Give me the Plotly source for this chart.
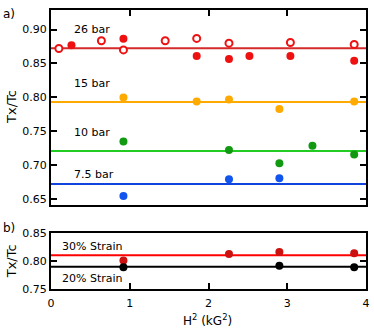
import plotly.graph_objects as go

# ---- data ----
h2_26_open = [0.10, 0.64, 0.92, 1.45, 1.85, 2.26, 3.04, 3.85]
tx_26_open = [0.872, 0.8835, 0.870, 0.8835, 0.887, 0.880, 0.881, 0.878]
h2_26_fill = [0.26, 0.92, 1.85, 2.26, 2.52, 3.04, 3.85]
tx_26_fill = [0.8768, 0.8864, 0.861, 0.8565, 0.861, 0.861, 0.854]
h2_15 = [0.92, 1.85, 2.26, 2.90, 3.85]
tx_15 = [0.7996, 0.7938, 0.7965, 0.7826, 0.7938]
h2_10 = [0.92, 2.26, 2.90, 3.32, 3.85]
tx_10 = [0.7346, 0.722, 0.7025, 0.7283, 0.7152]
h2_75 = [0.92, 2.26, 2.90]
tx_75 = [0.654, 0.6788, 0.6803]
h2_s30 = [0.92, 2.26, 2.90, 3.85]
tx_s30 = [0.8012, 0.8128, 0.8163, 0.814]
h2_s20 = [0.92, 2.90, 3.85]
tx_s20 = [0.789, 0.7918, 0.789]

fit_x = [0, 4]
fit_26, fit_15, fit_10, fit_75 = 0.8725, 0.7928, 0.7206, 0.6716
fit_s30, fit_s20 = 0.8105, 0.790

labels_top = ["26 bar", "15 bar", "10 bar", "7.5 bar"]
labels_bot = ["30% Strain", "20% Strain"]

FONT = "DejaVu Sans"
fig = go.Figure()

def line(y, color, xa, ya):
    fig.add_trace(go.Scatter(x=fit_x, y=[y, y], mode="lines", line=dict(color=color, width=2),
                             xaxis=xa, yaxis=ya, showlegend=False, hoverinfo="skip"))

def pts(x, y, color, xa, ya, open_=False):
    if open_:
        m = dict(size=7, color="white", line=dict(color=color, width=2), symbol="circle")
    else:
        m = dict(size=8, color=color, line=dict(width=0))
    fig.add_trace(go.Scatter(x=x, y=y, mode="markers", marker=m, xaxis=xa, yaxis=ya,
                             showlegend=False, cliponaxis=False))

# top panel
line(fit_26, "#d42a2a", "x", "y")
line(fit_15, "#ffaa00", "x", "y")
line(fit_10, "#22cc22", "x", "y")
line(fit_75, "#1144dd", "x", "y")
pts(h2_26_open, tx_26_open, "#ee1111", "x", "y", open_=True)
pts(h2_26_fill, tx_26_fill, "#ee1111", "x", "y")
pts(h2_15, tx_15, "#ffaa00", "x", "y")
pts(h2_10, tx_10, "#119911", "x", "y")
pts(h2_75, tx_75, "#1155ee", "x", "y")

# bottom panel
line(fit_s30, "#ff0000", "x2", "y2")
line(fit_s20, "#000000", "x2", "y2")
pts(h2_s30, tx_s30, "#cc1111", "x2", "y2")
pts(h2_s20, tx_s20, "#000000", "x2", "y2")

axis_common = dict(showgrid=False, zeroline=False, showline=True, linecolor="black", linewidth=2,
                   ticks="inside", ticklen=6, tickwidth=2, tickcolor="black",
                   tickfont=dict(family=FONT, size=11, color="black"))

fig.update_layout(
    width=374, height=329,
    margin=dict(l=51, r=5, t=4, b=40),
    paper_bgcolor="white", plot_bgcolor="white",
    font=dict(family=FONT, size=11, color="black"),
    xaxis=dict(**axis_common, range=[0, 4], dtick=1, side="top", showticklabels=False,
               mirror=True, anchor="y"),
    yaxis=dict(**axis_common, range=[0.641, 0.929], tickvals=[0.65, 0.70, 0.75, 0.80, 0.85, 0.90],
               tickformat=".2f", mirror="ticks", domain=[0.302, 1], anchor="x"),
    xaxis2=dict(**axis_common, range=[0, 4], dtick=1, mirror=True, anchor="y2",
                ticklabelstandoff=3),
    yaxis2=dict(**axis_common, range=[0.75, 0.85], tickvals=[0.75, 0.80, 0.85],
                tickformat=".2f", mirror="ticks", domain=[0, 0.2], anchor="x2"),
)

ann = []
for txt, yv in zip(labels_top, [0.9002, 0.8199, 0.748, 0.685]):
    ann.append(dict(text=txt, x=0.27, y=yv, xref="x", yref="y", xanchor="left", yanchor="middle",
                    showarrow=False, font=dict(family=FONT, size=11)))
for txt, yv in zip(labels_bot, [0.8268, 0.768]):
    ann.append(dict(text=txt, x=0.12, y=yv, xref="x2", yref="y2", xanchor="left", yanchor="middle",
                    showarrow=False, font=dict(family=FONT, size=11)))
ann += [
    dict(text="a)", x=-0.16, y=0.986, xref="paper", yref="paper", xanchor="left", yanchor="middle",
         showarrow=False, font=dict(family=FONT, size=12)),
    dict(text="b)", x=-0.16, y=0.2186, xref="paper", yref="paper", xanchor="left", yanchor="middle",
         showarrow=False, font=dict(family=FONT, size=12)),
    dict(text="Tx/Tc", x=-0.125, y=0.651, xref="paper", yref="paper", textangle=-90,
         xanchor="center", yanchor="middle", showarrow=False, font=dict(family=FONT, size=13)),
    dict(text="Tx/Tc", x=-0.125, y=0.098, xref="paper", yref="paper", textangle=-90,
         xanchor="center", yanchor="middle", showarrow=False, font=dict(family=FONT, size=13)),
    dict(text="H<sup>2</sup> (kG<sup>2</sup>)", x=0.497, y=-0.112, xref="paper", yref="paper",
         xanchor="center", yanchor="middle", showarrow=False, font=dict(family=FONT, size=12)),
]
fig.update_layout(annotations=ann)

fig.write_html("out.html", config={"displayModeBar": False},
               post_script="document.body.style.margin='0';document.body.style.overflow='hidden';")
